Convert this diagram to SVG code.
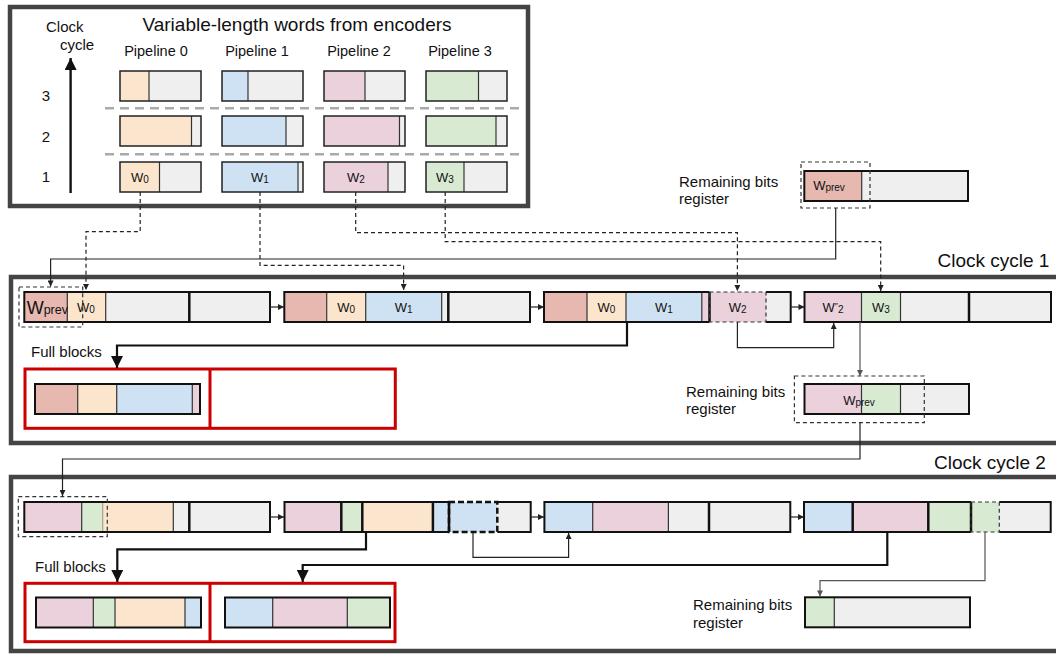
<svg xmlns="http://www.w3.org/2000/svg" width="1056" height="654" viewBox="0 0 1056 654">
<defs>
<style>
text{font-family:"Liberation Sans",Arial,sans-serif;fill:#111}
.frame{fill:none;stroke:#444;stroke-width:4.5}
.red{fill:none;stroke:#cc0000;stroke-width:3}
.o{fill:#fce5cd}.b{fill:#cfe2f3}.p{fill:#ead1dc}.g{fill:#d9ead3}.r{fill:#e6b8af}.e{fill:#efefef}
.seg{stroke:#333;stroke-width:1.2}
.bar{fill:none;stroke:#111;stroke-width:2}
.wbox{fill:none;stroke:#222;stroke-width:1.5}
.div{stroke:#111;stroke-width:2.5}
.dash{fill:none;stroke:#333;stroke-width:1.2;stroke-dasharray:4 3}
.dashk{fill:none;stroke:#111;stroke-width:2.5;stroke-dasharray:6 3}
.conn{fill:none;stroke:#222;stroke-width:1.2}
.gconn{fill:none;stroke:#555;stroke-width:1.2}
.dconn{fill:none;stroke:#222;stroke-width:1.2;stroke-dasharray:4 3}
.thick{fill:none;stroke:#111;stroke-width:2.2}
.sep{stroke:#aaa;stroke-width:2.5;stroke-dasharray:9 6}
.lbl{font-size:15px}
.pl{font-size:14.5px;text-anchor:middle}
.big{font-size:19px}
.w{font-size:13px;text-anchor:middle}
.s{font-size:10px}
</style>
<marker id="ah" viewBox="0 0 10 10" refX="10" refY="5" markerWidth="7" markerHeight="6" markerUnits="userSpaceOnUse" orient="auto">
<path d="M0,0 L10,5 L0,10 z" fill="#222"/>
</marker>
<marker id="ahg" viewBox="0 0 10 10" refX="10" refY="5" markerWidth="7" markerHeight="6" markerUnits="userSpaceOnUse" orient="auto">
<path d="M0,0 L10,5 L0,10 z" fill="#555"/>
</marker>
<marker id="big" viewBox="0 0 10 10" refX="10" refY="5" markerWidth="15" markerHeight="12" markerUnits="userSpaceOnUse" orient="auto">
<path d="M0,0 L10,5 L0,10 z" fill="#111"/>
</marker>
</defs>

<!-- Encoder output panel -->
<g id="encoders">
<rect class="frame" x="10" y="7" width="518" height="199"/>
<text class="big" x="297" y="31" text-anchor="middle">Variable-length words from encoders</text>
<text class="lbl" x="46" y="32">Clock</text>
<text class="lbl" x="60" y="50">cycle</text>
<line x1="70.6" y1="193" x2="70.6" y2="58" stroke="#111" stroke-width="2.4" marker-end="url(#big)"/>
<text class="lbl" x="46" y="101" text-anchor="middle">3</text>
<text class="lbl" x="46" y="142" text-anchor="middle">2</text>
<text class="lbl" x="46" y="182" text-anchor="middle">1</text>
<text class="pl" x="156" y="56">Pipeline 0</text>
<text class="pl" x="257" y="56">Pipeline 1</text>
<text class="pl" x="359" y="56">Pipeline 2</text>
<text class="pl" x="460" y="56">Pipeline 3</text>
<line class="sep" x1="105" y1="108.3" x2="520" y2="108.3"/>
<line class="sep" x1="105" y1="154.3" x2="520" y2="154.3"/>
<!-- cycle 3 -->
<rect class="o" x="120" y="71" width="29" height="30"/><rect class="e" x="149" y="71" width="52" height="30"/>
<line class="seg" x1="149" y1="71" x2="149" y2="101"/><rect class="wbox" x="120" y="71" width="81" height="30"/>
<rect class="b" x="222" y="71" width="26" height="30"/><rect class="e" x="248" y="71" width="55" height="30"/>
<line class="seg" x1="248" y1="71" x2="248" y2="101"/><rect class="wbox" x="222" y="71" width="81" height="30"/>
<rect class="p" x="324" y="71" width="41" height="30"/><rect class="e" x="365" y="71" width="40" height="30"/>
<line class="seg" x1="365" y1="71" x2="365" y2="101"/><rect class="wbox" x="324" y="71" width="81" height="30"/>
<rect class="g" x="426" y="71" width="52.5" height="30"/><rect class="e" x="478.5" y="71" width="28.5" height="30"/>
<line class="seg" x1="478.5" y1="71" x2="478.5" y2="101"/><rect class="wbox" x="426" y="71" width="81" height="30"/>
<!-- cycle 2 -->
<rect class="o" x="120" y="116" width="71.5" height="30"/><rect class="e" x="191.5" y="116" width="9.5" height="30"/>
<line class="seg" x1="191.5" y1="116" x2="191.5" y2="146"/><rect class="wbox" x="120" y="116" width="81" height="30"/>
<rect class="b" x="222" y="116" width="64" height="30"/><rect class="e" x="286" y="116" width="17" height="30"/>
<line class="seg" x1="286" y1="116" x2="286" y2="146"/><rect class="wbox" x="222" y="116" width="81" height="30"/>
<rect class="p" x="324" y="116" width="75.5" height="30"/><rect class="e" x="399.5" y="116" width="5.5" height="30"/>
<line class="seg" x1="399.5" y1="116" x2="399.5" y2="146"/><rect class="wbox" x="324" y="116" width="81" height="30"/>
<rect class="g" x="426" y="116" width="70" height="30"/><rect class="e" x="496" y="116" width="11" height="30"/>
<line class="seg" x1="496" y1="116" x2="496" y2="146"/><rect class="wbox" x="426" y="116" width="81" height="30"/>
<!-- cycle 1 -->
<rect class="o" x="120" y="162" width="39.5" height="30"/><rect class="e" x="159.5" y="162" width="41.5" height="30"/>
<line class="seg" x1="159.5" y1="162" x2="159.5" y2="192"/><rect class="wbox" x="120" y="162" width="81" height="30"/>
<rect class="b" x="222" y="162" width="76" height="30"/><rect class="e" x="298" y="162" width="5" height="30"/>
<line class="seg" x1="298" y1="162" x2="298" y2="192"/><rect class="wbox" x="222" y="162" width="81" height="30"/>
<rect class="p" x="324" y="162" width="64" height="30"/><rect class="e" x="388" y="162" width="17" height="30"/>
<line class="seg" x1="388" y1="162" x2="388" y2="192"/><rect class="wbox" x="324" y="162" width="81" height="30"/>
<rect class="g" x="426" y="162" width="38" height="30"/><rect class="e" x="464" y="162" width="43" height="30"/>
<line class="seg" x1="464" y1="162" x2="464" y2="192"/><rect class="wbox" x="426" y="162" width="81" height="30"/>
<text class="w" x="140" y="182">W<tspan class="s" dy="1">0</tspan></text>
<text class="w" x="260" y="182">W<tspan class="s" dy="1">1</tspan></text>
<text class="w" x="356" y="182">W<tspan class="s" dy="1">2</tspan></text>
<text class="w" x="445" y="182">W<tspan class="s" dy="1">3</tspan></text>
</g>

<!-- Remaining bits register before cycle 1 -->
<g id="reg0">
<text class="lbl" x="679" y="187">Remaining bits</text>
<text class="lbl" x="679" y="204">register</text>
<rect class="r" x="804.3" y="171" width="57.4" height="30"/><rect class="e" x="861.7" y="171" width="106.3" height="30"/>
<line class="seg" x1="861.7" y1="171" x2="861.7" y2="201"/>
<rect class="bar" x="804.3" y="171" width="163.7" height="30"/>
<rect class="dash" x="801" y="162" width="69" height="46"/>
<text class="w" x="829" y="190">W<tspan class="s" dy="1">prev</tspan></text>
</g>

<!-- Clock cycle 1 -->
<g id="cycle1">
<path class="frame" d="M1062,277 H11 V443 H1062"/>
<text class="big" x="937.5" y="267">Clock cycle 1</text>
</g>

<g id="c1-bar1">
<rect class="r" x="24.3" y="292" width="43" height="30"/>
<rect class="o" x="67.3" y="292" width="38.4" height="30"/>
<rect class="e" x="105.7" y="292" width="83.6" height="30"/>
<rect class="e" x="189.3" y="292" width="80.7" height="30"/>
<line class="seg" x1="67.3" y1="292" x2="67.3" y2="322"/>
<line class="seg" x1="105.7" y1="292" x2="105.7" y2="322"/>
<line class="div" x1="189.3" y1="292" x2="189.3" y2="322"/>
<rect class="bar" x="24.3" y="292" width="245.7" height="30"/>
<rect class="dash" x="19" y="287" width="63.7" height="40"/>
<text x="47.3" y="313.5" text-anchor="middle" font-size="18">W<tspan font-size="12.5" dy="0">prev</tspan></text>
<text class="w" x="86" y="312">W<tspan class="s" dy="1">0</tspan></text>
</g>

<g id="c1-bar2">
<rect class="r" x="284.3" y="292" width="42.4" height="30"/>
<rect class="o" x="326.7" y="292" width="39" height="30"/>
<rect class="b" x="365.7" y="292" width="76" height="30"/>
<rect class="e" x="441.7" y="292" width="6.6" height="30"/>
<rect class="e" x="448.3" y="292" width="81.7" height="30"/>
<line class="seg" x1="326.7" y1="292" x2="326.7" y2="322"/>
<line class="seg" x1="365.7" y1="292" x2="365.7" y2="322"/>
<line class="seg" x1="441.7" y1="292" x2="441.7" y2="322"/>
<line class="div" x1="448.3" y1="292" x2="448.3" y2="322"/>
<rect class="bar" x="284.3" y="292" width="245.7" height="30"/>
<text class="w" x="346.2" y="312">W<tspan class="s" dy="1">0</tspan></text>
<text class="w" x="403.7" y="312">W<tspan class="s" dy="1">1</tspan></text>
</g>

<g id="c1-bar3">
<rect class="r" x="544" y="292" width="43" height="30"/>
<rect class="o" x="587" y="292" width="39" height="30"/>
<rect class="b" x="626" y="292" width="75.8" height="30"/>
<rect class="p" x="701.8" y="292" width="64.2" height="30"/>
<rect class="e" x="766" y="292" width="24.7" height="30"/>
<line class="seg" x1="587" y1="292" x2="587" y2="322"/>
<line class="seg" x1="626" y1="292" x2="626" y2="322"/>
<line class="seg" x1="701.8" y1="292" x2="701.8" y2="322"/>
<line class="div" x1="709.5" y1="292" x2="709.5" y2="322"/>
<path class="bar" d="M709.5,292 H544 V322 H709.5 M766,292 H790.7 V322 H766"/>
<rect class="dash" x="709.5" y="292" width="56.5" height="30"/>
<text class="w" x="606.5" y="312">W<tspan class="s" dy="1">0</tspan></text>
<text class="w" x="664" y="312">W<tspan class="s" dy="1">1</tspan></text>
<text class="w" x="737.7" y="312">W<tspan class="s" dy="1">2</tspan></text>
</g>

<g id="c1-bar4">
<rect class="p" x="804.5" y="292" width="57" height="30"/>
<rect class="g" x="861.5" y="292" width="39" height="30"/>
<rect class="e" x="900.5" y="292" width="68.5" height="30"/>
<rect class="e" x="969" y="292" width="82" height="30"/>
<line class="seg" x1="861.5" y1="292" x2="861.5" y2="322"/>
<line class="seg" x1="900.5" y1="292" x2="900.5" y2="322"/>
<line class="div" x1="969" y1="292" x2="969" y2="322"/>
<rect class="bar" x="804.5" y="292" width="246.5" height="30"/>
<text class="w" x="833" y="312">W<tspan font-size="9" dy="-3">″</tspan><tspan class="s" dy="4">2</tspan></text>
<text class="w" x="881" y="312">W<tspan class="s" dy="1">3</tspan></text>
</g>

<g id="c1-full">
<text class="lbl" x="31" y="357">Full blocks</text>
<rect class="red" x="25" y="369" width="370.3" height="59.3"/>
<line class="red" x1="210" y1="369" x2="210" y2="428.3"/>
<rect class="r" x="35" y="384" width="42.7" height="30"/>
<rect class="o" x="77.7" y="384" width="39" height="30"/>
<rect class="b" x="116.7" y="384" width="75.6" height="30"/>
<rect class="p" x="192.3" y="384" width="7.7" height="30"/>
<line class="seg" x1="77.7" y1="384" x2="77.7" y2="414"/>
<line class="seg" x1="116.7" y1="384" x2="116.7" y2="414"/>
<line class="seg" x1="192.3" y1="384" x2="192.3" y2="414"/>
<rect class="bar" x="35" y="384" width="165" height="30"/>
</g>

<g id="reg1">
<text class="lbl" x="686" y="397">Remaining bits</text>
<text class="lbl" x="686" y="414">register</text>
<rect class="p" x="804.5" y="384" width="57" height="30"/>
<rect class="g" x="861.5" y="384" width="39" height="30"/>
<rect class="e" x="900.5" y="384" width="68.5" height="30"/>
<line class="seg" x1="861.5" y1="384" x2="861.5" y2="414"/>
<line class="seg" x1="900.5" y1="384" x2="900.5" y2="414"/>
<rect class="bar" x="804.5" y="384" width="164.5" height="30"/>
<rect class="dash" x="794.4" y="376" width="129.9" height="46.7"/>
<text class="w" x="859" y="404.5">W<tspan class="s" dy="1">prev</tspan></text>
</g>

<!-- Clock cycle 2 -->
<g id="cycle2">
<path class="frame" d="M1062,477 H11 V651 H1062"/>
<text class="big" x="934" y="469">Clock cycle 2</text>
</g>

<g id="c2-bar1">
<rect class="p" x="24.3" y="502" width="57.4" height="30"/>
<rect class="g" x="81.7" y="502" width="21" height="30"/>
<rect class="o" x="102.7" y="502" width="70.6" height="30"/>
<rect class="e" x="173.3" y="502" width="16" height="30"/>
<rect class="e" x="189.3" y="502" width="80.7" height="30"/>
<line class="seg" x1="81.7" y1="502" x2="81.7" y2="532"/>
<line class="seg" x1="102.7" y1="502" x2="102.7" y2="532" stroke-opacity="0.4"/>
<line class="seg" x1="173.3" y1="502" x2="173.3" y2="532"/>
<line class="div" x1="189.3" y1="502" x2="189.3" y2="532"/>
<rect class="bar" x="24.3" y="502" width="245.7" height="30"/>
<rect class="dash" x="18.3" y="496.7" width="89" height="40"/>
</g>

<g id="c2-bar2">
<rect class="p" x="284.5" y="502" width="56.8" height="30"/>
<rect class="g" x="341.3" y="502" width="21" height="30"/>
<rect class="o" x="362.3" y="502" width="70.6" height="30"/>
<rect class="b" x="432.9" y="502" width="64.4" height="30"/>
<rect class="e" x="497.3" y="502" width="33.4" height="30"/>
<line class="div" x1="341.3" y1="502" x2="341.3" y2="532"/>
<line class="div" x1="362.3" y1="502" x2="362.3" y2="532"/>
<line class="div" x1="432.9" y1="502" x2="432.9" y2="532"/>
<line class="div" x1="449" y1="502" x2="449" y2="532"/>
<path class="bar" d="M449,502 H284.5 V532 H449 M497.3,502 H530.7 V532 H497.3"/>
<rect class="dashk" x="449" y="502" width="48.3" height="30"/>
</g>

<g id="c2-bar3">
<rect class="b" x="544.4" y="502" width="48.3" height="30"/>
<rect class="p" x="592.7" y="502" width="75.7" height="30"/>
<rect class="e" x="668.4" y="502" width="40.6" height="30"/>
<rect class="e" x="709" y="502" width="81.3" height="30"/>
<line class="seg" x1="592.7" y1="502" x2="592.7" y2="532"/>
<line class="seg" x1="668.4" y1="502" x2="668.4" y2="532"/>
<line class="div" x1="709" y1="502" x2="709" y2="532"/>
<rect class="bar" x="544.4" y="502" width="245.9" height="30"/>
</g>

<g id="c2-bar4">
<rect class="b" x="804" y="502" width="48.7" height="30"/>
<rect class="p" x="852.7" y="502" width="75.6" height="30"/>
<rect class="g" x="928.3" y="502" width="71" height="30"/>
<rect class="e" x="999.3" y="502" width="51.4" height="30"/>
<line class="div" x1="852.7" y1="502" x2="852.7" y2="532"/>
<line class="div" x1="928.3" y1="502" x2="928.3" y2="532"/>
<line class="div" x1="971" y1="502" x2="971" y2="532"/>
<path class="bar" d="M971,502 H804 V532 H971 M999.3,502 H1050.7 V532 H999.3"/>
<rect class="dash" x="971" y="502" width="28.3" height="30" stroke="#666"/>
</g>

<g id="c2-full">
<text class="lbl" x="35" y="572">Full blocks</text>
<rect class="red" x="25" y="583.3" width="370" height="58.4"/>
<line class="red" x1="210" y1="583.3" x2="210" y2="641.7"/>
<rect class="p" x="36" y="597.5" width="57.3" height="30"/>
<rect class="g" x="93.3" y="597.5" width="21.7" height="30"/>
<rect class="o" x="115" y="597.5" width="70" height="30"/>
<rect class="b" x="185" y="597.5" width="16" height="30"/>
<line class="seg" x1="93.3" y1="597.5" x2="93.3" y2="627.5"/>
<line class="seg" x1="115" y1="597.5" x2="115" y2="627.5"/>
<line class="seg" x1="185" y1="597.5" x2="185" y2="627.5"/>
<rect class="bar" x="36" y="597.5" width="165" height="30"/>
<rect class="b" x="225" y="597.5" width="47.7" height="30"/>
<rect class="p" x="272.7" y="597.5" width="74.6" height="30"/>
<rect class="g" x="347.3" y="597.5" width="42.7" height="30"/>
<line class="seg" x1="272.7" y1="597.5" x2="272.7" y2="627.5"/>
<line class="seg" x1="347.3" y1="597.5" x2="347.3" y2="627.5"/>
<rect class="bar" x="225" y="597.5" width="165" height="30"/>
</g>

<g id="reg2">
<text class="lbl" x="693" y="610">Remaining bits</text>
<text class="lbl" x="693" y="628">register</text>
<rect class="g" x="805" y="597.3" width="29.3" height="30"/>
<rect class="e" x="834.3" y="597.3" width="135.7" height="30"/>
<line class="seg" x1="834.3" y1="597.3" x2="834.3" y2="627.3"/>
<rect class="bar" x="805" y="597.3" width="165" height="30"/>
</g>

<!-- Connectors -->
<g id="connectors">
<path class="dconn" d="M140.2,192 V231.7 H86 V290" marker-end="url(#ah)"/>
<path class="dconn" d="M260,192 V265.3 H403.6 V290" marker-end="url(#ah)"/>
<path class="dconn" d="M355.7,192 V232.7 H737.4 V291" marker-end="url(#ah)"/>
<path class="dconn" d="M445.2,192 V241.7 H880.7 V291" marker-end="url(#ah)"/>
<path class="conn" d="M835.7,208 V259 H50.6 V286.5" marker-end="url(#ah)"/>

<path class="conn" d="M270,307 H284" marker-end="url(#ah)"/>
<path class="conn" d="M530,307 H544" marker-end="url(#ah)"/>
<path class="conn" d="M790.7,307 H804.5" marker-end="url(#ah)"/>
<path class="conn" d="M737.4,322 V347.7 H833.7 V323" marker-end="url(#ah)"/>
<path class="thick" d="M627,322 V345.5 H117 V368" marker-end="url(#big)"/>
<path class="gconn" d="M860,322 V376" marker-end="url(#ahg)"/>
<path class="conn" d="M860,422.7 V459 H62.5 V496" marker-end="url(#ah)"/>

<path class="conn" d="M270,517 H284" marker-end="url(#ah)"/>
<path class="conn" d="M530.7,517 H544" marker-end="url(#ah)"/>
<path class="conn" d="M790.3,517 H804" marker-end="url(#ah)"/>
<path class="thick" d="M366,532 V549.3 H117.3 V582" marker-end="url(#big)"/>
<path class="conn" d="M473,532 V557.3 H568.6 V533" marker-end="url(#ah)"/>
<path class="thick" d="M887.3,532 V565 H302.7 V582" marker-end="url(#big)"/>
<path class="gconn" d="M985,532 V580.7 H820 V596.5" marker-end="url(#ahg)"/>
</g>
</svg>
